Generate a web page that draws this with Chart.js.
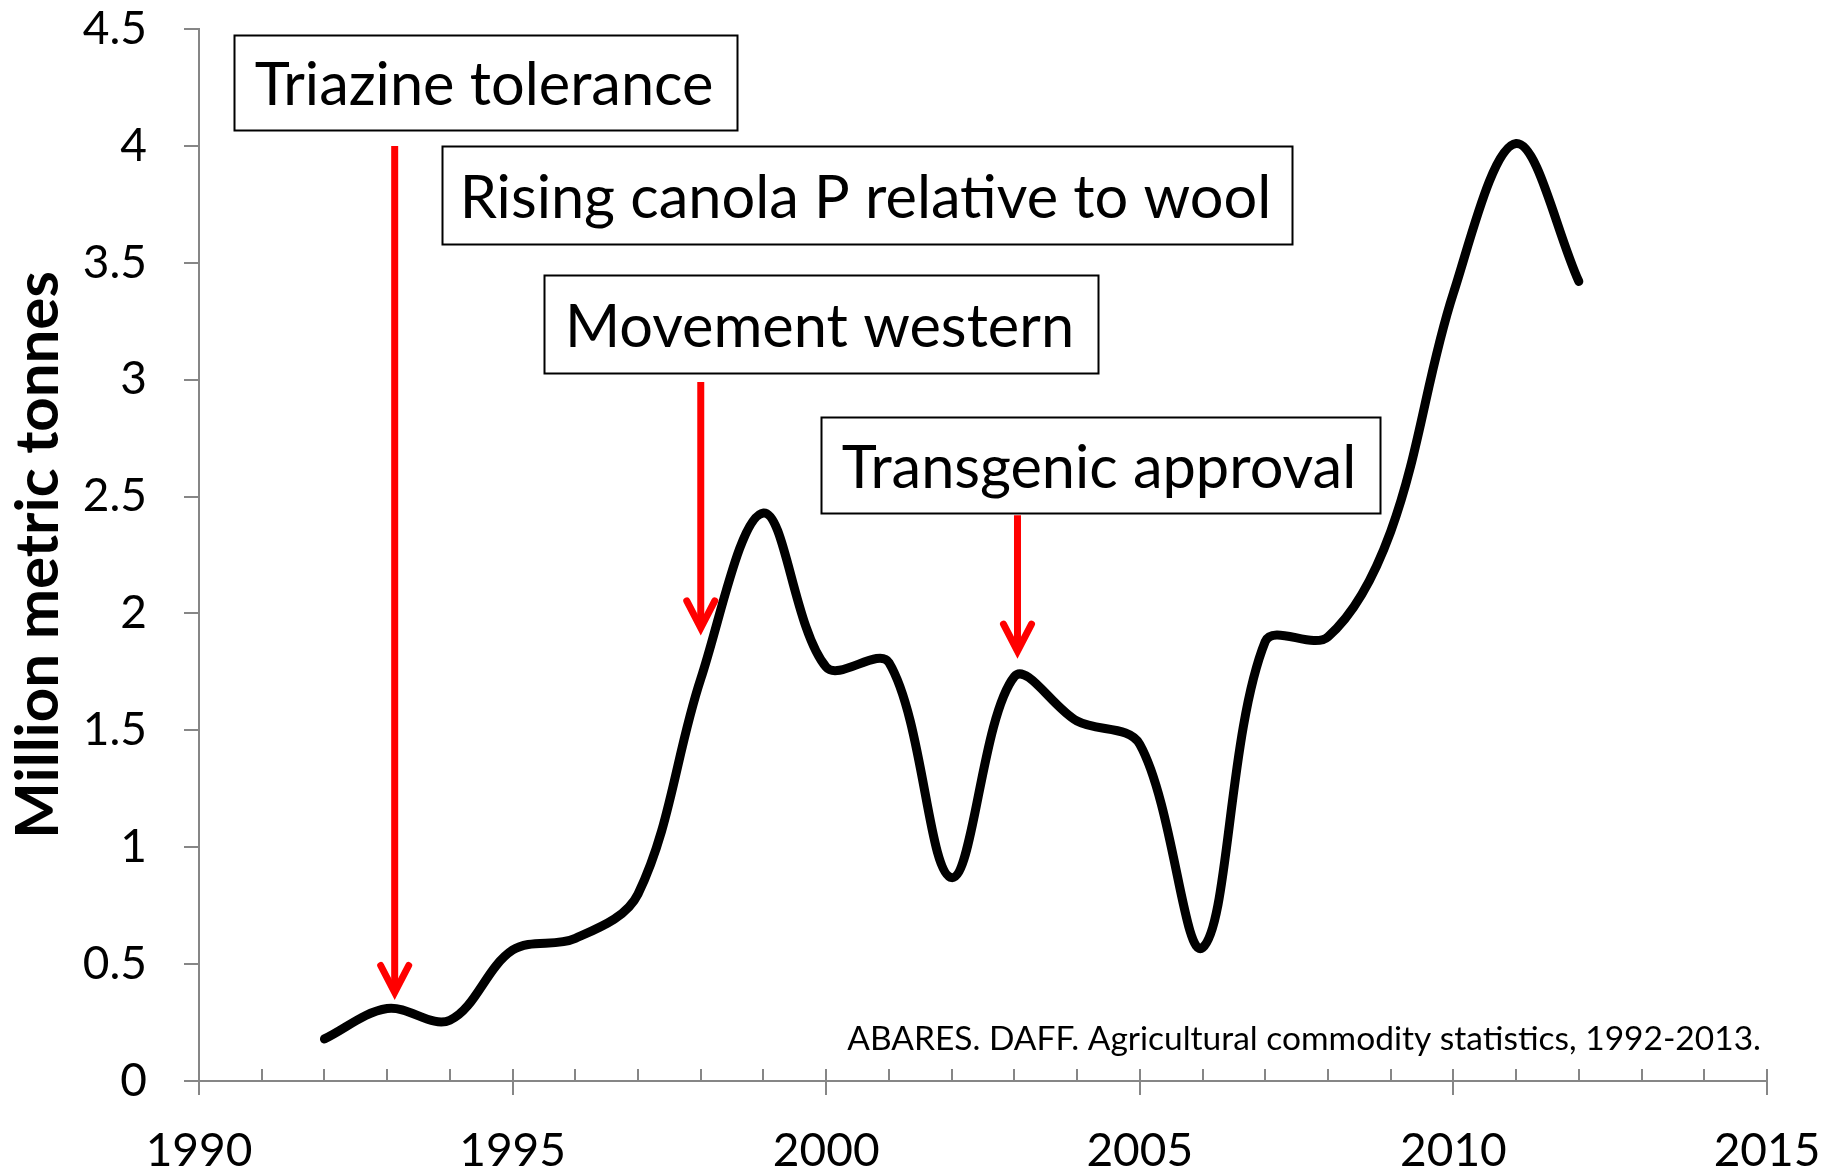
<!DOCTYPE html>
<html>
<head>
<meta charset="utf-8">
<title>Canola production</title>
<script src="https://cdn.jsdelivr.net/npm/chart.js@4.4.1/dist/chart.umd.min.js"></script>
<style>
    html, body { margin: 0; padding: 0; background: #fff; }
    canvas { display: block; }
</style>
</head>
<body>
<canvas id="chartCanola" width="1839" height="1173"></canvas>
<script>
// Production per year, million metric tonnes
const years = [1992, 1993, 1994, 1995, 1996, 1997, 1998, 1999, 2000, 2001, 2002,
               2003, 2004, 2005, 2006, 2007, 2008, 2009, 2010, 2011, 2012];
const production = [0.18, 0.31, 0.26, 0.56, 0.61, 0.80, 1.72, 2.43, 1.77, 1.79, 0.87,
                    1.73, 1.54, 1.44, 0.57, 1.88, 1.90, 2.35, 3.37, 4.01, 3.42];

// Axis tick labels
const xTickLabels = ['1990', '1995', '2000', '2005', '2010', '2015'];
const yTickLabels = ['0', '0.5', '1', '1.5', '2', '2.5', '3', '3.5', '4', '4.5'];

const FONT = 'Lato, "Open Sans", sans-serif';
const AXIS_GREY = '#868686';

/**
 * Annotation boxes and red arrows, placed in year/value coordinates
 */
const notes = [
    { text: 'Triazine tolerance', x0: 1990.56, x1: 1998.58, y0: 4.475, y1: 4.069 },
    { text: 'Rising canola P relative to wool', x0: 1993.87, x1: 2007.43, y0: 3.998, y1: 3.582 },
    { text: 'Movement western', x0: 1995.50, x1: 2004.34, y0: 3.447, y1: 3.030 },
    { text: 'Transgenic approval', x0: 1999.91, x1: 2008.83, y0: 2.840, y1: 2.428 }
];
const arrows = [
    { year: 1993.12, from: 4.00, to: 0.37 },
    { year: 1998.00, from: 2.99, to: 1.93 },
    { year: 2003.05, from: 2.42, to: 1.83 }
];

const overlayPlugin = {
    id: 'overlay',
    afterDatasetsDraw(chart) {
        const { ctx, chartArea } = chart;
        const xs = chart.scales.x;
        const ys = chart.scales.y;
        ctx.save();

        // tick marks: x minor inside, x major crossing, y outside
        ctx.strokeStyle = AXIS_GREY;
        ctx.lineWidth = 2;
        for (let yr = 1990; yr <= 2015; yr++) {
            const px = Math.round(xs.getPixelForValue(yr));
            ctx.beginPath();
            ctx.moveTo(px, chartArea.bottom - 12);
            ctx.lineTo(px, chartArea.bottom + (yr % 5 === 0 ? 14 : 0));
            ctx.stroke();
        }
        ys.ticks.forEach(t => {
            const py = Math.round(ys.getPixelForValue(t.value));
            ctx.beginPath();
            ctx.moveTo(chartArea.left - 15, py);
            ctx.lineTo(chartArea.left, py);
            ctx.stroke();
        });

        // red arrows
        ctx.strokeStyle = '#ff0000';
        ctx.lineWidth = 7;
        arrows.forEach(a => {
            const px = xs.getPixelForValue(a.year);
            const top = ys.getPixelForValue(a.from);
            const tip = ys.getPixelForValue(a.to);
            ctx.lineCap = 'butt';
            ctx.beginPath();
            ctx.moveTo(px, top);
            ctx.lineTo(px, tip - 4);
            ctx.stroke();
            ctx.lineCap = 'round';
            ctx.lineJoin = 'miter';
            ctx.beginPath();
            ctx.moveTo(px - 14, tip - 29);
            ctx.lineTo(px, tip - 2);
            ctx.lineTo(px + 14, tip - 29);
            ctx.stroke();
        });

        // text boxes
        ctx.font = `59.5px ${FONT}`;
        ctx.textAlign = 'center';
        ctx.textBaseline = 'middle';
        notes.forEach(n => {
            const l = Math.round(xs.getPixelForValue(n.x0)) + 0.5;
            const r = Math.round(xs.getPixelForValue(n.x1)) + 0.5;
            const t = Math.round(ys.getPixelForValue(n.y0)) + 0.5;
            const b = Math.round(ys.getPixelForValue(n.y1)) + 0.5;
            ctx.fillStyle = '#fff';
            ctx.fillRect(l, t, r - l, b - t);
            ctx.strokeStyle = '#000';
            ctx.lineWidth = 2;
            ctx.strokeRect(l, t, r - l, b - t);
            ctx.fillStyle = '#000';
            ctx.fillText(n.text, (l + r) / 2 - 2, (t + b) / 2 + 3);
        });

        // source line
        ctx.font = `33.5px ${FONT}`;
        ctx.textAlign = 'right';
        ctx.fillText('ABARES. DAFF. Agricultural commodity statistics, 1992-2013.',
            chartArea.right - 6, chartArea.bottom - 42);

        ctx.restore();
    }
};

const ctx = document.getElementById('chartCanola').getContext('2d');
new Chart(ctx, {
    type: 'line',
    data: {
        datasets: [{
            label: 'Canola',
            data: years.map((yr, i) => ({ x: yr, y: production[i] })),
            borderColor: '#000',
            borderWidth: 9,
            borderCapStyle: 'round',
            borderJoinStyle: 'round',
            pointRadius: 0,
            tension: 0.35,
            fill: false
        }]
    },
    options: {
        responsive: false,
        animation: false,
        layout: { padding: { left: 0, right: 72, top: 29, bottom: 0 } },
        plugins: {
            legend: { display: false },
            tooltip: { enabled: false }
        },
        scales: {
            x: {
                type: 'linear',
                min: 1990,
                max: 2015,
                afterFit: scale => { scale.height = 92; },
                // invisible tick marks only push the labels down; real ticks are drawn by the plugin
                grid: { drawOnChartArea: false, drawTicks: true, tickLength: 47, color: 'rgba(0,0,0,0)' },
                border: { display: true, color: AXIS_GREY, width: 2 },
                ticks: {
                    stepSize: 1,
                    autoSkip: false,
                    maxRotation: 0,
                    padding: 0,
                    color: '#000',
                    font: { family: FONT, size: 46, lineHeight: 1 },
                    callback: v => xTickLabels.includes(String(v)) ? String(v) : ''
                }
            },
            y: {
                min: 0,
                max: 4.5,
                afterFit: scale => { scale.width = 199; },
                grid: { drawOnChartArea: false, drawTicks: true, tickLength: 52, color: 'rgba(0,0,0,0)' },
                border: { display: true, color: AXIS_GREY, width: 2 },
                ticks: {
                    stepSize: 0.5,
                    padding: 0,
                    color: '#000',
                    font: { family: FONT, size: 46, lineHeight: 1 },
                    callback: (v, i) => yTickLabels[i]
                },
                title: {
                    display: true,
                    text: 'Million metric tonnes',
                    color: '#000',
                    font: { family: FONT, size: 60, weight: 'bold', lineHeight: 1 },
                    padding: { top: 9, bottom: 0 }
                }
            }
        }
    },
    plugins: [overlayPlugin]
});
</script>
</body>
</html>
